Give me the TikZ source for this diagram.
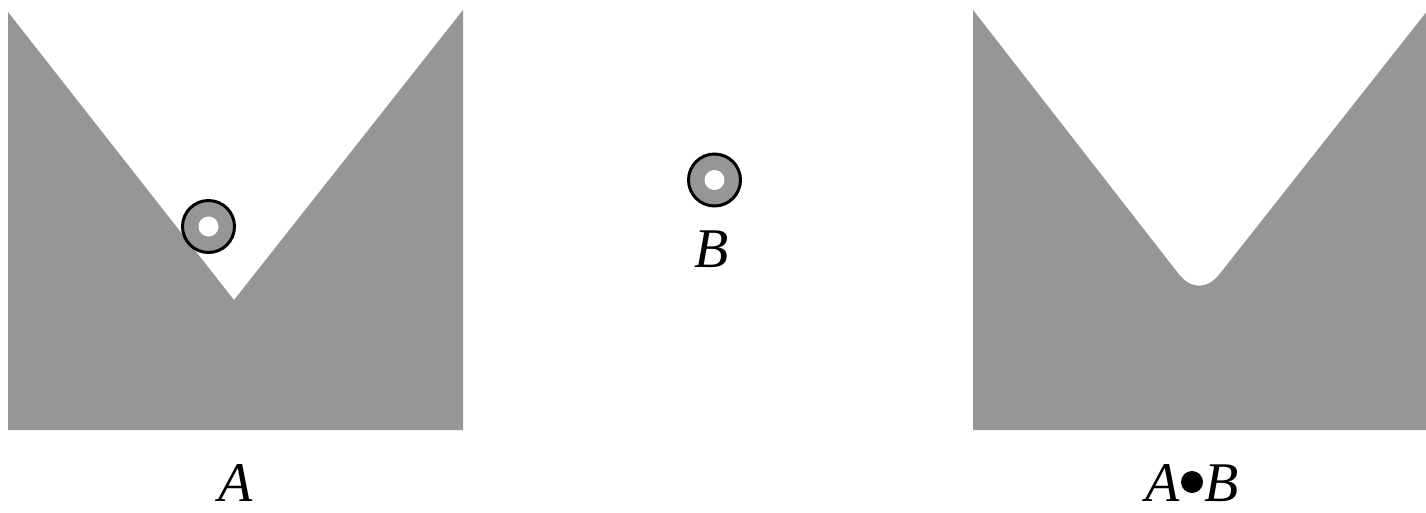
\documentclass[tikz,border=0pt]{standalone}
\usepackage{fontspec}
\setmainfont{Liberation Serif}
\definecolor{shapegray}{RGB}{150,150,150}
\begin{document}
\begin{tikzpicture}[x=1pt,y=-1pt,
  region/.style={fill=shapegray},
  ring/.style={draw=black,line width=3pt,fill=shapegray},
  hole/.style={fill=white},
  lab/.style={font=\fontsize{56}{60}\selectfont\itshape,inner sep=0pt,anchor=base}]
\useasboundingbox (0,0) rectangle (1426,512);
% set A
\fill[region] (8,12) -- (234,300) -- (463,10) -- (463,430) -- (8,430) -- cycle;
\draw[ring] (208.5,226.5) circle (26);
\fill[hole] (208.5,226.5) circle (10);
\node[lab] (la) at (236,501) {A};
% structuring element B
\draw[ring] (714.5,180) circle (26);
\fill[hole] (714.5,180) circle (10);
\node[lab] (lb) at (712,267) {B};
% closing A.B
\begin{scope}
\clip (0,0) rectangle (1426,512);
\fill[region] (973,10) -- (1178.7,274) .. controls (1190.9,289.6) and (1207.2,289.6) .. (1219.5,274.1)
  -- (1428,10) -- (1428,430) -- (973,430) -- cycle;
\end{scope}
\node[lab] (lab) at (1192,501) {A\kern1pt\raisebox{8pt}{\tikz[x=1pt,y=1pt]\fill (0,0) circle (11);}\kern1pt B};
\end{tikzpicture}
\end{document}
